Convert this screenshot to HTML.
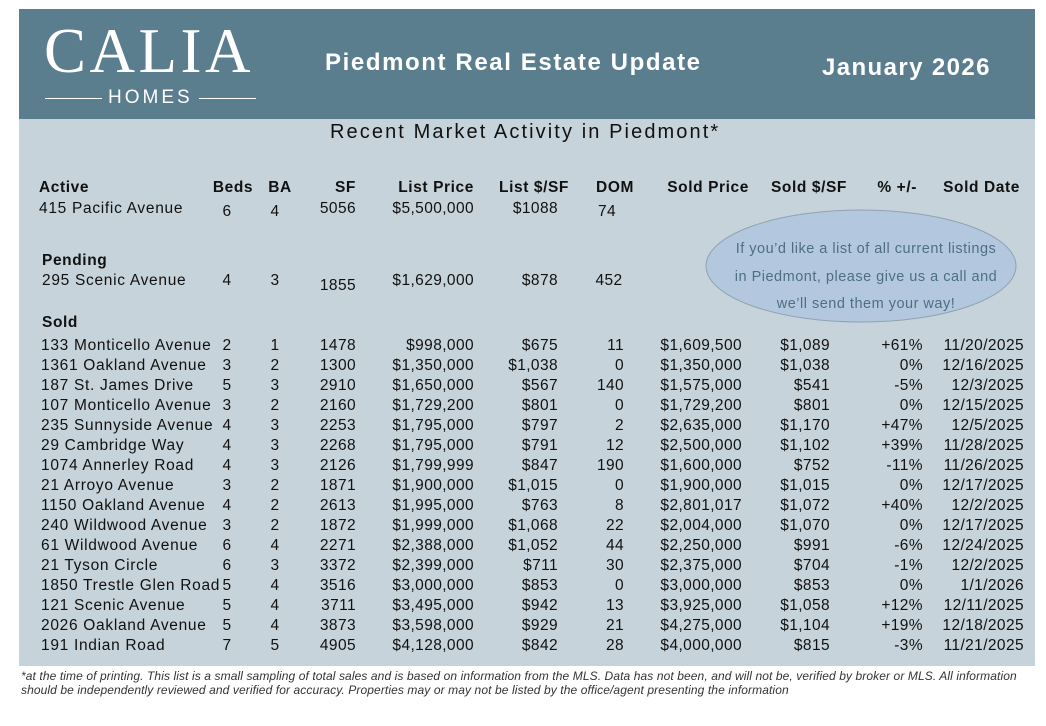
<!DOCTYPE html>
<html><head><meta charset="utf-8">
<style>
body{margin:0;width:1046px;height:726px;background:#fff;position:relative;overflow:hidden;font-family:"Liberation Sans",sans-serif;color:#111}
.abs{position:absolute;white-space:nowrap}
#hdr{position:absolute;left:19px;top:9px;width:1016px;height:110px;background:#5b7e8f}
#body{position:absolute;left:19px;top:119px;width:1016px;height:547px;background:#c6d3da}
.c{font-size:15.5px;line-height:20px;letter-spacing:0.4px}
.a{letter-spacing:0.7px}
.h{font-size:15.5px;font-weight:bold;line-height:20px;letter-spacing:0.6px}
</style></head><body>
<div id="hdr"></div>
<div id="body"></div>
<div class="abs" style="left:44px;top:16px;font-family:'Liberation Serif',serif;font-size:63px;color:#fff;letter-spacing:3.5px;line-height:70px">CALIA</div>
<div class="abs" style="left:108px;top:87px;font-size:19px;color:#fff;letter-spacing:3px;line-height:22px">HOMES</div>
<div class="abs" style="left:45px;top:98px;width:57px;height:1px;background:#fff"></div>
<div class="abs" style="left:199px;top:98px;width:57px;height:1px;background:#fff"></div>
<div class="abs" style="left:325px;top:49px;font-size:24px;font-weight:bold;color:#fff;line-height:28px;letter-spacing:1.6px">Piedmont Real Estate Update</div>
<div class="abs" style="left:822px;top:54px;font-size:24px;font-weight:bold;color:#fff;line-height:28px;letter-spacing:1.4px">January 2026</div>
<div class="abs" style="left:330px;top:119px;font-size:20px;line-height:26px;letter-spacing:2.1px">Recent Market Activity in Piedmont*</div>
<svg class="abs" style="left:0;top:0" width="1046" height="726">
<ellipse cx="861" cy="266" rx="155" ry="56" fill="#b3c8de" stroke="#8fa2b3" stroke-width="1"/>
<text x="866" y="253" text-anchor="middle" font-family="Liberation Sans" font-size="14.5" letter-spacing="0.5" fill="#4e6f80">If you’d like a list of all current listings</text>
<text x="866" y="281" text-anchor="middle" font-family="Liberation Sans" font-size="14.5" letter-spacing="0.5" fill="#4e6f80">in Piedmont, please give us a call and</text>
<text x="866" y="308" text-anchor="middle" font-family="Liberation Sans" font-size="14.5" letter-spacing="0.5" fill="#4e6f80">we’ll send them your way!</text>
</svg>
<div class="abs" style="left:21px;top:670px;font-size:12px;font-style:italic;line-height:13.5px;color:#333;letter-spacing:0.1px">*at the time of printing. This list is a small sampling of total sales and is based on information from the MLS. Data has not been, and will not be, verified by broker or MLS. All information<br>should be independently reviewed and verified for accuracy. Properties may or may not be listed by the office/agent presenting the information</div>
<div id="rows"></div>
<script>
const headers=["Active","Beds","BA","SF","List Price","List $/SF","DOM","Sold Price","Sold $/SF","% +/-","Sold Date"];
const soldAddr=["133 Monticello Avenue","1361 Oakland Avenue","187 St. James Drive","107 Monticello Avenue","235 Sunnyside Avenue","29 Cambridge Way","1074 Annerley Road","21 Arroyo Avenue","1150 Oakland Avenue","240 Wildwood Avenue","61 Wildwood Avenue","21 Tyson Circle","1850 Trestle Glen Road","121 Scenic Avenue","2026 Oakland Avenue","191 Indian Road"];
const soldBeds=["2","3","5","3","4","4","4","3","4","3","6","6","5","5","5","7"];
const soldBa=["1","2","3","2","3","3","3","2","2","2","4","3","4","4","4","5"];
const soldSf=["1478","1300","2910","2160","2253","2268","2126","1871","2613","1872","2271","3372","3516","3711","3873","4905"];
const listPrice=["$998,000","$1,350,000","$1,650,000","$1,729,200","$1,795,000","$1,795,000","$1,799,999","$1,900,000","$1,995,000","$1,999,000","$2,388,000","$2,399,000","$3,000,000","$3,495,000","$3,598,000","$4,128,000"];
const listPsf=["$675","$1,038","$567","$801","$797","$791","$847","$1,015","$763","$1,068","$1,052","$711","$853","$942","$929","$842"];
const dom=["11","0","140","0","2","12","190","0","8","22","44","30","0","13","21","28"];
const soldPrice=["$1,609,500","$1,350,000","$1,575,000","$1,729,200","$2,635,000","$2,500,000","$1,600,000","$1,900,000","$2,801,017","$2,004,000","$2,250,000","$2,375,000","$3,000,000","$3,925,000","$4,275,000","$4,000,000"];
const soldPsf=["$1,089","$1,038","$541","$801","$1,170","$1,102","$752","$1,015","$1,072","$1,070","$991","$704","$853","$1,058","$1,104","$815"];
const pct=["+61%","0%","-5%","0%","+47%","+39%","-11%","0%","+40%","0%","-6%","-1%","0%","+12%","+19%","-3%"];
const soldDate=["11/20/2025","12/16/2025","12/3/2025","12/15/2025","12/5/2025","11/28/2025","11/26/2025","12/17/2025","12/2/2025","12/17/2025","12/24/2025","12/2/2025","1/1/2026","12/11/2025","12/18/2025","11/21/2025"];
const active=["415 Pacific Avenue","6","4","5056","$5,500,000","$1088","74"];
const pending=["295 Scenic Avenue","4","3","1855","$1,629,000","$878","452"];
const R=document.getElementById('rows');
function put(txt,x,y,align,cls,name){
  const d=document.createElement('div');
  d.className='abs '+cls;
  d.textContent=txt;
  
  
  d.style.top=(y-10)+'px';
  if(align==='l'){d.style.left=x+'px';}
  else if(align==='r'){d.style.right=(1046-x)+'px';}
  else {d.style.left=(x-100)+'px';d.style.width='200px';d.style.textAlign='center';}
  R.appendChild(d);
}
const hx=[[39,'l'],[233,'c'],[280,'c'],[356,'r'],[474,'r'],[569,'r'],[634,'r'],[749,'r'],[847,'r'],[917,'r'],[1020,'r']];
headers.forEach((h,i)=>put(h,hx[i][0],188,hx[i][1],'h','header-'+h.toLowerCase().replace(/[^a-z]+/g,'-')));
const cx=[[41,'l'],[227,'c'],[275,'c'],[356,'r'],[474,'r'],[558,'r'],[624,'r'],[742,'r'],[830,'r'],[923,'r'],[1024,'r']];
active.forEach((v,i)=>{let x=cx[i][0],a=cx[i][1],y=209;
  if(i===0)x=39; if(i===1||i===2)y=212; if(i===6){x=607;a='c';y=212;}
  put(v,x,y,a,i===0?'c a':'c','active-cell-'+i);});
put('Pending',42,261,'l','h','pending-label');
pending.forEach((v,i)=>{let x=cx[i][0],a=cx[i][1],y=281;
  if(i===0)x=42; if(i===3)y=286; if(i===6){x=609;a='c';}
  put(v,x,y,a,i===0?'c a':'c','pending-cell-'+i);});
put('Sold',42,323,'l','h','sold-label');
soldAddr.forEach((a,r)=>{
  const y=346+r*20;
  const vals=[a,soldBeds[r],soldBa[r],soldSf[r],listPrice[r],listPsf[r],dom[r],soldPrice[r],soldPsf[r],pct[r],soldDate[r]];
  vals.forEach((v,i)=>put(v,cx[i][0],y,cx[i][1],i===0?'c a':'c','sold-row-'+r+'-col-'+i));
});
</script>
</body></html>
